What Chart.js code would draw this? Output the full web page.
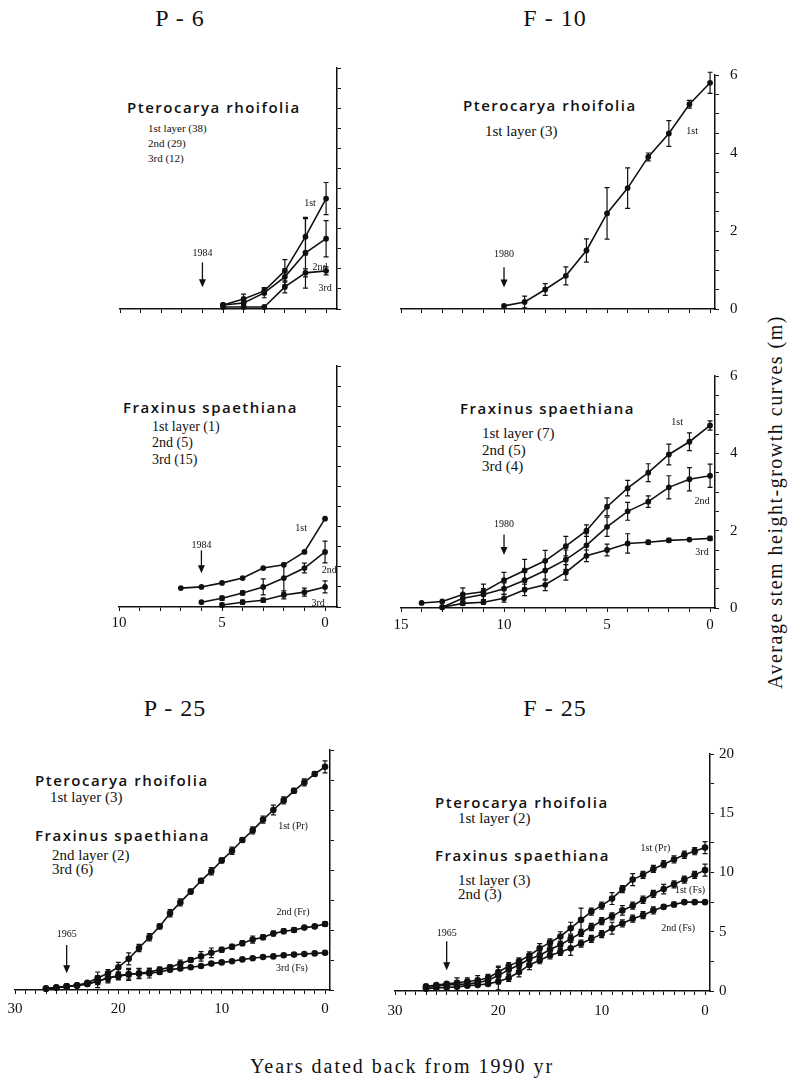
<!DOCTYPE html>
<html>
<head>
<meta charset="utf-8">
<script src="https://cdn.jsdelivr.net/npm/chart.js@4.4.1/dist/chart.umd.min.js"></script>
<style>
  body { margin: 0; background: #fff; width: 802px; height: 1081px; position: relative; overflow: hidden;
         font-family: "Liberation Serif", serif; color: #111; }
  canvas { position: absolute; }
  .t { position: absolute; white-space: nowrap; line-height: 1; transform: translateY(-50%); }
  .sp { font-family: "Open Sans", sans-serif; font-weight: 600; font-size: 15px; letter-spacing: 1.5px; }
  .ly { font-size: 15px; }
  .sm { font-size: 11px; }
  .md { font-size: 14px; }
  .title { position: absolute; font-size: 24px; letter-spacing: 1px; transform: translate(-50%, -50%); white-space: nowrap; }
  #ylab { position: absolute; left: 775px; top: 502px; font-size: 20px; letter-spacing: 1.5px; white-space: nowrap;
          transform: translate(-50%, -50%) rotate(-90deg); }
  #xlab { position: absolute; left: 402px; top: 1066px; font-size: 20px; letter-spacing: 2px; white-space: nowrap;
          transform: translate(-50%, -50%); }
</style>
</head>
<body>
<div class="title" style="left:180px;top:18px">P - 6</div>
<div class="title" style="left:555px;top:18px">F - 10</div>
<div class="title" style="left:175px;top:708px">P - 25</div>
<div class="title" style="left:555px;top:708px">F - 25</div>

<div class="t sp" style="left:127px;top:107px">Pterocarya rhoifolia</div>
<div class="t sm" style="left:148px;top:128px">1st layer (38)</div>
<div class="t sm" style="left:148px;top:143px">2nd (29)</div>
<div class="t sm" style="left:148px;top:158px">3rd (12)</div>

<div class="t sp" style="left:463px;top:105px">Pterocarya rhoifolia</div>
<div class="t ly" style="left:485px;top:131px">1st layer (3)</div>

<div class="t sp" style="left:123px;top:407px">Fraxinus spaethiana</div>
<div class="t md" style="left:152px;top:427px">1st layer (1)</div>
<div class="t md" style="left:152px;top:443px">2nd (5)</div>
<div class="t md" style="left:152px;top:460px">3rd (15)</div>

<div class="t sp" style="left:460px;top:408px">Fraxinus spaethiana</div>
<div class="t ly" style="left:482px;top:433px">1st layer (7)</div>
<div class="t ly" style="left:482px;top:450px">2nd (5)</div>
<div class="t ly" style="left:482px;top:466px">3rd (4)</div>

<div class="t sp" style="left:35px;top:780px">Pterocarya rhoifolia</div>
<div class="t ly" style="left:50px;top:797px">1st layer (3)</div>
<div class="t sp" style="left:35px;top:835px">Fraxinus spaethiana</div>
<div class="t ly" style="left:52px;top:855px">2nd layer (2)</div>
<div class="t ly" style="left:52px;top:869px">3rd (6)</div>

<div class="t sp" style="left:435px;top:802px">Pterocarya rhoifolia</div>
<div class="t ly" style="left:458px;top:818px">1st layer (2)</div>
<div class="t sp" style="left:435px;top:855px">Fraxinus spaethiana</div>
<div class="t ly" style="left:458px;top:880px">1st layer (3)</div>
<div class="t ly" style="left:458px;top:894px">2nd (3)</div>

<div id="ylab">Average stem height-growth curves (m)</div>
<div id="xlab">Years dated back from 1990 yr</div>

<script>
// ---- data (years dated back from 1990, height in m) ----

// P-6, Pterocarya rhoifolia
const p6PrYears = [5, 4, 3, 2, 1, 0];
const p6Pr1st = [0.1, 0.25, 0.45, 0.95, 1.8, 2.75];
const p6Pr1stErr = [0, 0.12, 0.08, 0.28, 0.45, 0.4];
const p6Pr2nd = [0.1, 0.15, 0.4, 0.8, 1.4, 1.75];
const p6Pr2ndErr = [0, 0.05, 0.12, 0.2, 0.88, 0.45];
const p6Pr3rd = [0.05, 0.05, 0.05, 0.55, 0.9, 0.95];
const p6Pr3rdErr = [0, 0, 0, 0.15, 0.1, 0.1];

// F-10, Pterocarya rhoifolia
const f10PrYears = [10, 9, 8, 7, 6, 5, 4, 3, 2, 1, 0];
const f10Pr1st = [0.08, 0.18, 0.5, 0.85, 1.5, 2.45, 3.1, 3.9, 4.5, 5.25, 5.8];
const f10Pr1stErr = [0, 0.15, 0.15, 0.23, 0.3, 0.66, 0.52, 0.1, 0.33, 0.1, 0.27];

// P-6, Fraxinus spaethiana
const p6FsYears1 = [7, 6, 5, 4, 3, 2, 1, 0];
const p6Fs1st = [0.47, 0.5, 0.6, 0.72, 0.97, 1.05, 1.37, 2.2];
const p6FsYears2 = [6, 5, 4, 3, 2, 1, 0];
const p6Fs2nd = [0.12, 0.22, 0.35, 0.5, 0.72, 0.97, 1.37];
const p6Fs2ndErr = [0, 0.05, 0.05, 0.2, 0.37, 0.12, 0.27];
const p6FsYears3 = [5, 4, 3, 2, 1, 0];
const p6Fs3rd = [0.05, 0.12, 0.17, 0.3, 0.37, 0.5];
const p6Fs3rdErr = [0.05, 0.05, 0.05, 0.1, 0.1, 0.15];

// F-10, Fraxinus spaethiana
const f10FsYears1 = [14, 13, 12, 11, 10, 9, 8, 7, 6, 5, 4, 3, 2, 1, 0];
const f10Fs1st = [0.13, 0.17, 0.35, 0.42, 0.72, 0.97, 1.22, 1.6, 2.0, 2.62, 3.1, 3.5, 3.97, 4.3, 4.72];
const f10Fs1stErr = [0, 0, 0.17, 0.2, 0.2, 0.29, 0.27, 0.25, 0.15, 0.23, 0.2, 0.23, 0.27, 0.23, 0.12];
const f10FsYears23 = [13, 12, 11, 10, 9, 8, 7, 6, 5, 4, 3, 2, 1, 0];
const f10Fs2nd = [0.02, 0.25, 0.35, 0.5, 0.72, 0.97, 1.25, 1.62, 2.1, 2.5, 2.75, 3.12, 3.33, 3.42];
const f10Fs2ndErr = [0, 0.1, 0.15, 0.15, 0.2, 0.25, 0.25, 0.3, 0.25, 0.23, 0.15, 0.3, 0.3, 0.3];
const f10Fs3rd = [0.02, 0.12, 0.15, 0.25, 0.47, 0.6, 0.92, 1.35, 1.5, 1.67, 1.7, 1.75, 1.77, 1.8];
const f10Fs3rdErr = [0, 0.05, 0.05, 0.1, 0.15, 0.15, 0.2, 0.15, 0.15, 0.25, 0.05, 0.05, 0, 0.05];

// P-25 and F-25 share the same years
const y25Years = [27, 26, 25, 24, 23, 22, 21, 20, 19, 18, 17, 16, 15, 14, 13, 12, 11, 10, 9, 8, 7, 6, 5, 4, 3, 2, 1, 0];

// P-25
const p25Pr1st = [0.1, 0.2, 0.3, 0.4, 0.6, 1.0, 1.4, 1.9, 2.6, 3.5, 4.4, 5.3, 6.4, 7.3, 8.2, 9.1, 9.9, 10.8, 11.6, 12.5, 13.3, 14.2, 15.0, 15.8, 16.6, 17.3, 18.0, 18.6];
const p25Pr1stErr = [0, 0, 0, 0, 0.1, 0.5, 0.3, 0.4, 0.5, 0.3, 0.3, 0.2, 0.3, 0.3, 0.2, 0.2, 0.3, 0.2, 0.3, 0.2, 0.3, 0.3, 0.4, 0.3, 0.2, 0.3, 0.2, 0.5];
const p25Fr2nd = [0.1, 0.2, 0.3, 0.4, 0.5, 0.7, 1.0, 1.2, 1.3, 1.4, 1.5, 1.7, 1.9, 2.2, 2.5, 2.8, 3.1, 3.35, 3.6, 3.9, 4.2, 4.4, 4.7, 4.9, 5.0, 5.2, 5.3, 5.5];
const p25Fr2ndErr = [0, 0, 0, 0, 0, 0.5, 0.4, 0.3, 0.5, 0.4, 0.3, 0.2, 0.2, 0.3, 0.2, 0.4, 0.4, 0.2, 0.2, 0.2, 0.3, 0.2, 0.2, 0.2, 0.2, 0.1, 0.1, 0.2];
const p25Fs3rd = [0.15, 0.2, 0.3, 0.35, 0.5, 0.75, 1.0, 1.15, 1.3, 1.35, 1.4, 1.5, 1.7, 1.8, 1.9, 2.0, 2.2, 2.3, 2.4, 2.55, 2.65, 2.75, 2.8, 2.9, 2.95, 3.0, 3.05, 3.1];
const p25Fs3rdErr = [0, 0, 0, 0, 0, 0.3, 0.3, 0.3, 0.4, 0.4, 0.4, 0.2, 0.2, 0.1, 0.1, 0.1, 0.1, 0.1, 0.1, 0.1, 0.1, 0.1, 0.1, 0.1, 0.1, 0.1, 0.1, 0.1];

// F-25
const f25Pr1st = [0.4, 0.5, 0.6, 0.7, 0.8, 0.9, 1.1, 1.6, 2.1, 2.5, 3.0, 3.6, 4.1, 4.6, 5.3, 6.0, 6.7, 7.2, 7.8, 8.6, 9.4, 9.8, 10.3, 10.7, 11.1, 11.5, 11.8, 12.1];
const f25Pr1stErr = [0, 0, 0, 0.4, 0.3, 0.4, 0.3, 0.5, 0.3, 0.3, 0.3, 0.4, 0.3, 0.4, 0.5, 1.0, 0.3, 0.3, 0.5, 0.3, 0.5, 0.3, 0.3, 0.3, 0.3, 0.3, 0.3, 0.5];
const f25Fs1st = [0.3, 0.4, 0.5, 0.55, 0.6, 0.7, 0.9, 1.3, 1.8, 2.2, 2.7, 3.0, 3.5, 3.9, 4.4, 4.9, 5.4, 5.9, 6.3, 6.8, 7.2, 7.7, 8.2, 8.6, 9.0, 9.4, 9.8, 10.2];
const f25Fs1stErr = [0, 0, 0.2, 0.3, 0.3, 0.3, 0.4, 0.7, 0.3, 0.3, 0.4, 0.3, 0.3, 0.3, 0.3, 0.3, 0.3, 0.3, 0.3, 0.4, 0.3, 0.3, 0.3, 0.4, 0.3, 0.3, 0.3, 0.5];
const f25Fs2nd = [0.2, 0.25, 0.3, 0.35, 0.45, 0.5, 0.6, 0.8, 1.1, 1.6, 2.2, 2.6, 3.0, 3.3, 3.6, 4.0, 4.4, 4.8, 5.3, 5.7, 6.1, 6.4, 6.8, 7.1, 7.3, 7.5, 7.5, 7.5];
const f25Fs2ndErr = [0, 0, 0, 0, 0, 0, 0, 0.7, 0.3, 0.4, 0.4, 0.3, 0.3, 0.3, 0.6, 0.3, 0.3, 0.3, 0.5, 0.3, 0.3, 0.3, 0.3, 0.2, 0.2, 0.1, 0.1, 0.1];

// axis ticks
const ticks6 = [0, 0.5, 1, 1.5, 2, 2.5, 3, 3.5, 4, 4.5, 5, 5.5, 6];
const ticks20 = [0, 2.5, 5, 7.5, 10, 12.5, 15, 17.5, 20];
const years10 = [0, 1, 2, 3, 4, 5, 6, 7, 8, 9, 10];
const years15 = [0, 1, 2, 3, 4, 5, 6, 7, 8, 9, 10, 11, 12, 13, 14, 15];
const years30 = [0, 1, 2, 3, 4, 5, 6, 7, 8, 9, 10, 11, 12, 13, 14, 15, 16, 17, 18, 19, 20, 21, 22, 23, 24, 25, 26, 27, 28, 29, 30];

// ---- layout ----
const PL = 14, PT = 12, RW = 42, BH = 30;
const INK = "#111";

const panels = [
  { box: [120, 67, 337, 309], xMax: 10, xMin: -0.53, xTicks: years10, xEvery: 5, yMax: 6, yTicks: ticks6, yEvery: 2,
    showX: false, showY: false, r: 2.1,
    series: [[p6PrYears, p6Pr1st, p6Pr1stErr], [p6PrYears, p6Pr2nd, p6Pr2ndErr], [p6PrYears, p6Pr3rd, p6Pr3rdErr]],
    notes: [["1st", 0.78, 2.64], ["2nd", 0.3, 1.04], ["3rd", 0.05, 0.52]],
    arrow: { x: 6, label: "1984", labelY: 1.38, top: 1.16, tip: 0.54 } },
  { box: [401, 67, 715, 309], xMax: 15, xMin: -0.24, xTicks: years15, xEvery: 5, yMax: 6, yTicks: ticks6, yEvery: 2,
    showX: false, showY: true, yPad: 11, r: 2.1,
    series: [[f10PrYears, f10Pr1st, f10Pr1stErr]],
    notes: [["1st", 0.87, 4.55]],
    arrow: { x: 10, label: "1980", labelY: 1.39, top: 1.07, tip: 0.55 } },
  { box: [119, 365, 337, 607], xMax: 10, xMin: -0.58, xTicks: years10, xEvery: 5, yMax: 6, yTicks: ticks6, yEvery: 2,
    showX: true, xPad: 3, showY: false, r: 2.1,
    series: [[p6FsYears1, p6Fs1st, null], [p6FsYears2, p6Fs2nd, p6Fs2ndErr], [p6FsYears3, p6Fs3rd, p6Fs3rdErr]],
    notes: [["1st", 1.16, 1.96], ["2nd", -0.2, 0.92], ["3rd", 0.34, 0.1]],
    arrow: { x: 6, label: "1984", labelY: 1.54, top: 1.41, tip: 0.84 } },
  { box: [401, 368, 715, 608], xMax: 15, xMin: -0.24, xTicks: years15, xEvery: 5, yMax: 6, yTicks: ticks6, yEvery: 2,
    showX: true, xPad: 4, showY: true, yPad: 11, r: 2.1,
    series: [[f10FsYears1, f10Fs1st, f10Fs1stErr], [f10FsYears23, f10Fs2nd, f10Fs2ndErr], [f10FsYears23, f10Fs3rd, f10Fs3rdErr]],
    notes: [["1st", 1.6, 4.8], ["2nd", 0.39, 2.75], ["3rd", 0.39, 1.45]],
    arrow: { x: 10, label: "1980", labelY: 2.15, top: 1.9, tip: 1.37 } },
  { box: [15, 749, 330, 990], xMax: 30, xMin: -0.48, xTicks: years30, xEvery: 10, yMax: 20, yTicks: ticks20, yEvery: 5,
    showX: true, xPad: 6, showY: false, r: 2.5,
    series: [[y25Years, p25Pr1st, p25Pr1stErr], [y25Years, p25Fr2nd, p25Fr2ndErr], [y25Years, p25Fs3rd, p25Fs3rdErr]],
    notes: [["1st (Pr)", 3.1, 13.6], ["2nd (Fr)", 3.1, 6.5], ["3rd (Fs)", 3.2, 1.8]],
    arrow: { x: 25, label: "1965", labelY: 4.6, top: 3.75, tip: 1.4 } },
  { box: [395, 752, 710, 991], xMax: 30, xMin: -0.48, xTicks: years30, xEvery: 10, yMax: 20, yTicks: ticks20, yEvery: 5,
    showX: true, xPad: 7, showY: true, yPad: 5, r: 2.5,
    series: [[y25Years, f25Pr1st, f25Pr1stErr], [y25Years, f25Fs1st, f25Fs1stErr], [y25Years, f25Fs2nd, f25Fs2ndErr]],
    notes: [["1st (Pr)", 4.8, 12.05], ["1st (Fs)", 1.45, 8.45], ["2nd (Fs)", 2.6, 5.3]],
    arrow: { x: 25, label: "1965", labelY: 4.85, top: 4.2, tip: 1.75 } },
];

const errorBars = {
  id: "errorBars",
  afterDatasetsDraw(chart) {
    const { ctx, scales: { x, y } } = chart;
    ctx.save();
    ctx.strokeStyle = INK;
    ctx.lineWidth = 1.2;
    chart.data.datasets.forEach((ds) => {
      if (!ds.errors) return;
      ds.data.forEach((p, i) => {
        const e = ds.errors[i];
        if (!e) return;
        const px = x.getPixelForValue(p.x);
        const top = y.getPixelForValue(p.y + e);
        const bot = y.getPixelForValue(Math.max(0, p.y - e));
        ctx.beginPath();
        ctx.moveTo(px, top); ctx.lineTo(px, bot);
        ctx.moveTo(px - 2.5, top); ctx.lineTo(px + 2.5, top);
        ctx.moveTo(px - 2.5, bot); ctx.lineTo(px + 2.5, bot);
        ctx.stroke();
      });
    });
    ctx.restore();
  },
};

function makeNotes(p) {
  return {
    id: "notes",
    afterDraw(chart) {
      const { ctx, scales: { x, y } } = chart;
      ctx.save();
      ctx.fillStyle = INK;
      ctx.strokeStyle = INK;
      ctx.textAlign = "center";
      ctx.textBaseline = "middle";
      ctx.font = '10px "Liberation Serif"';
      p.notes.forEach(([txt, nx, ny]) => ctx.fillText(txt, x.getPixelForValue(nx), y.getPixelForValue(ny)));
      const a = p.arrow;
      const ax = x.getPixelForValue(a.x);
      const y1 = y.getPixelForValue(a.top);
      const y2 = y.getPixelForValue(a.tip);
      ctx.fillText(a.label, ax, y.getPixelForValue(a.labelY));
      ctx.lineWidth = 1.3;
      ctx.beginPath();
      ctx.moveTo(ax, y1); ctx.lineTo(ax, y2 - 6);
      ctx.stroke();
      ctx.beginPath();
      ctx.moveTo(ax - 3.5, y2 - 8); ctx.lineTo(ax + 3.5, y2 - 8); ctx.lineTo(ax, y2);
      ctx.closePath();
      ctx.fill();
      ctx.restore();
    },
  };
}

const pts = (years, vals) => years.map((yr, i) => ({ x: yr, y: vals[i] }));

panels.forEach((p) => {
  const [l, t, r, b] = p.box;
  const cv = document.createElement("canvas");
  cv.width = r - l + PL + RW;
  cv.height = b - t + PT + BH;
  cv.style.left = `${l - PL}px`;
  cv.style.top = `${t - PT}px`;
  document.body.appendChild(cv);

  new Chart(cv, {
    type: "line",
    data: {
      datasets: p.series.map(([yrs, vals, errs]) => ({
        data: pts(yrs, vals),
        errors: errs,
        borderColor: INK,
        backgroundColor: INK,
        borderWidth: 1.6,
        pointRadius: p.r,
        pointHoverRadius: p.r,
        tension: 0,
        clip: false,
      })),
    },
    options: {
      animation: false,
      responsive: false,
      devicePixelRatio: 1,
      events: [],
      layout: { padding: { left: PL, top: PT, right: 0, bottom: 0 } },
      plugins: { legend: { display: false }, tooltip: { enabled: false } },
      scales: {
        x: {
          type: "linear",
          reverse: true,
          min: p.xMin,
          max: p.xMax,
          afterBuildTicks: (s) => { s.ticks = p.xTicks.map((v) => ({ value: v })); },
          afterFit: (s) => { s.height = BH; },
          ticks: {
            autoSkip: false, maxRotation: 0, padding: p.xPad || 3, color: INK,
            font: { family: "Liberation Serif", size: 15 },
            callback: (v) => (p.showX && v % p.xEvery === 0 ? String(v) : ""),
          },
          grid: { display: true, drawOnChartArea: false, drawTicks: true, tickLength: 4, color: INK },
          border: { display: true, color: INK, width: 1.5 },
        },
        y: {
          type: "linear",
          position: "right",
          min: 0,
          max: p.yMax,
          afterBuildTicks: (s) => { s.ticks = p.yTicks.map((v) => ({ value: v })); },
          afterFit: (s) => { s.width = RW; },
          ticks: {
            autoSkip: false, padding: p.yPad || 4, color: INK,
            font: { family: "Liberation Serif", size: 15 },
            callback: (v) => (p.showY && v % p.yEvery === 0 ? String(v) : ""),
          },
          grid: { display: true, drawOnChartArea: false, drawTicks: true, tickLength: 4, color: INK },
          border: { display: true, color: INK, width: 1.5 },
        },
      },
    },
    plugins: [errorBars, makeNotes(p)],
  });
});
</script>
</body>
</html>
